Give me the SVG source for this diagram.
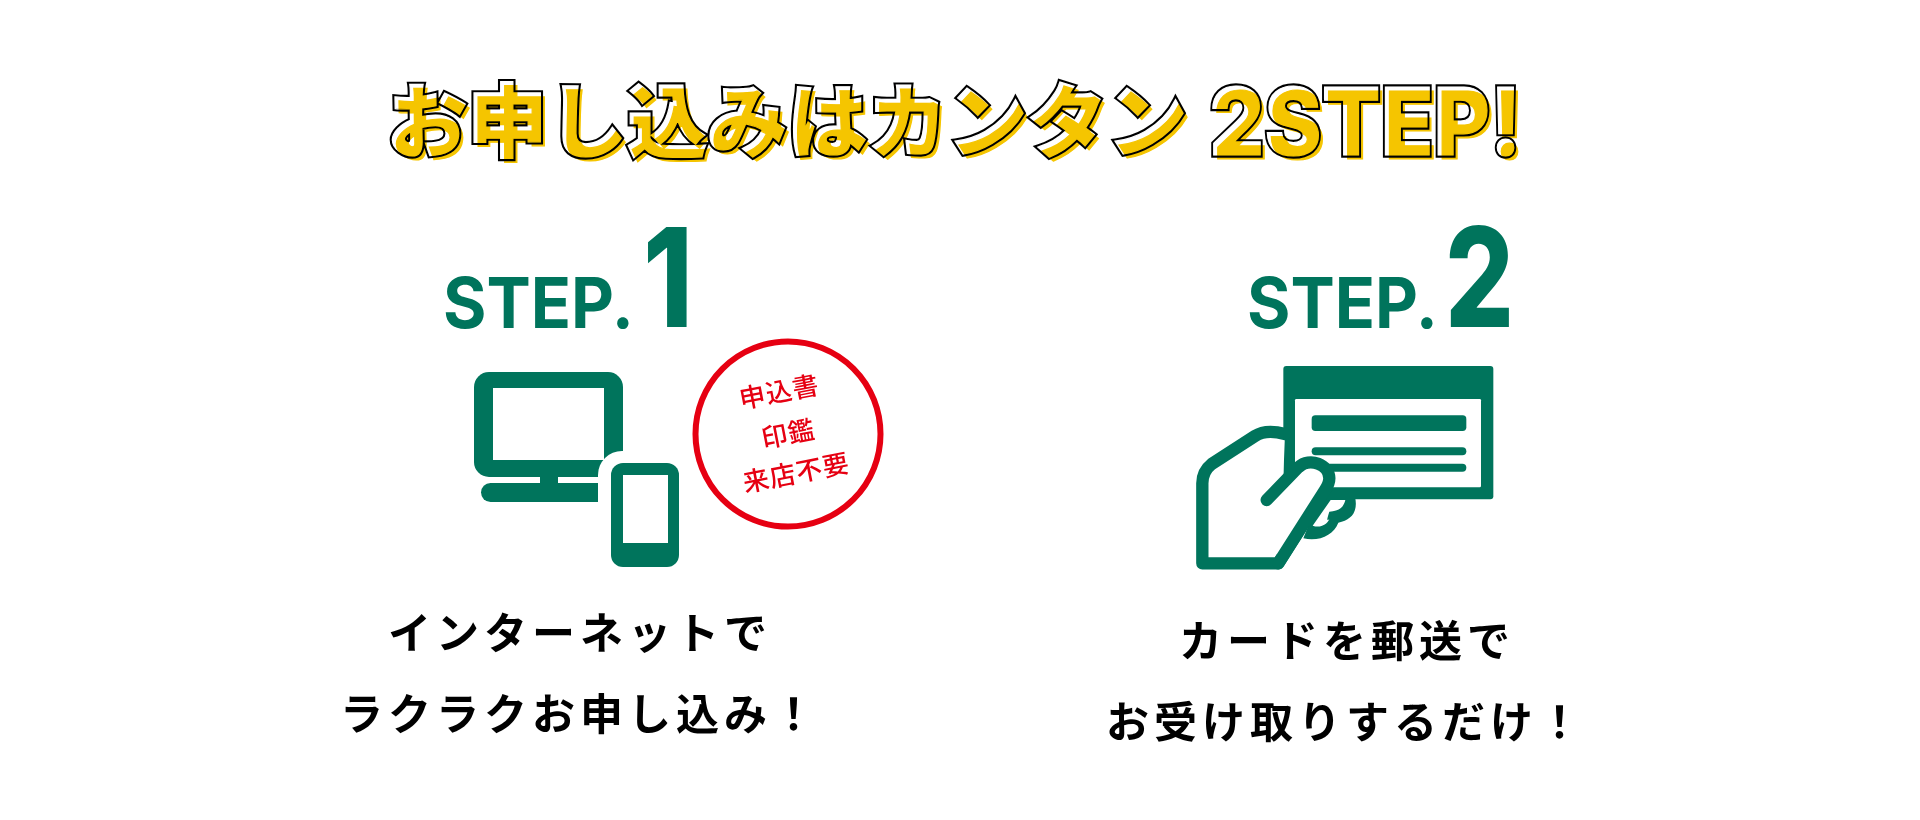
<svg xmlns="http://www.w3.org/2000/svg" width="1920" height="820" viewBox="0 0 1920 820">
<style>
.g{fill:#00745c}
.w{fill:#fff}
.jp{font-family:"Noto Sans CJK JP","Noto Sans",sans-serif}
.tj{font-size:80px;font-weight:900}
.tl{font-family:Inter,"Liberation Sans",sans-serif;font-size:94px;font-weight:800}
.sh{fill:#f5c500;stroke:#f5c500;stroke-width:1.2px;mix-blend-mode:multiply}
.ob{fill:#000;stroke:#000;stroke-width:5.4px;stroke-linejoin:miter;stroke-miterlimit:3}
.ow{fill:#fff;stroke:#fff;stroke-width:1.2px;stroke-linejoin:miter;stroke-miterlimit:3}
.st{font-family:Inter,"Liberation Sans",sans-serif;font-weight:700;font-size:70px;fill:#00745c}
.nm{font-family:Inter,"Liberation Sans",sans-serif;font-weight:800;font-size:138px;fill:#00745c}
.bd{font-size:43px;font-weight:700;fill:#000;letter-spacing:5px}
.rd{font-size:26px;font-weight:500;fill:#e60012;text-anchor:middle;letter-spacing:1px}
.h{fill:none;stroke:#00745c;stroke-width:37;stroke-linecap:round;stroke-linejoin:round}
</style>
<rect width="1920" height="820" fill="#fff"/>
<g id="title">
<text class="jp tj ob" x="387" y="150">お申し込みはカンタン</text>
<text class="tl ob" x="1209" y="155" textLength="312" lengthAdjust="spacingAndGlyphs">2STEP!</text>
<text class="jp tj ow" x="387" y="150">お申し込みはカンタン</text>
<text class="tl ow" x="1209" y="155" textLength="312" lengthAdjust="spacingAndGlyphs">2STEP!</text>
<text class="jp tj sh" x="391" y="154">お申し込みはカンタン</text>
<text class="tl sh" x="1213" y="159" textLength="312" lengthAdjust="spacingAndGlyphs">2STEP!</text>
</g>
<g id="step1-label">
<text class="st" x="443" y="328" textLength="191" lengthAdjust="spacingAndGlyphs">STEP.</text>
<text class="nm" x="643" y="327" textLength="50" lengthAdjust="spacingAndGlyphs">1</text>
</g>
<g id="step1-devices">
<rect class="g" x="474" y="372" width="149" height="105" rx="15"/>
<rect class="w" x="493" y="388" width="111" height="72"/>
<rect class="g" x="540" y="477" width="18" height="8"/>
<rect class="g" x="481" y="483" width="130" height="19" rx="9.5"/>
<rect class="w" x="598" y="451" width="93" height="128" rx="24"/>
<rect class="g" x="611" y="463" width="68" height="104" rx="12"/>
<rect class="w" x="623" y="475" width="45" height="68"/>
</g>
<g id="stamp">
<circle cx="788" cy="434" r="92.5" fill="none" stroke="#e60012" stroke-width="6"/>
<g class="jp">
<text class="rd" transform="translate(781 401) rotate(-11)">申込書</text>
<text class="rd" transform="translate(790 443) rotate(-11)">印鑑</text>
<text class="rd" transform="translate(798 482) rotate(-11)">来店不要</text>
</g>
</g>
<g id="step1-text" class="jp">
<text class="bd" x="388" y="649">インターネットで</text>
<text class="bd" x="340" y="730">ラクラクお申し込み！</text>
</g>
<g id="step2-label">
<text class="st" x="1247" y="328" textLength="191" lengthAdjust="spacingAndGlyphs">STEP.</text>
<text class="nm" x="1445" y="327" textLength="69" lengthAdjust="spacingAndGlyphs">2</text>
</g>
<g id="step2-card">
<g transform="translate(1170 210) scale(.33333)">
<path class="g" d="M400 985 L450 860 L555 860 C565 905 545 930 505 938 C490 975 450 995 400 985 Z"/>
<path class="w" d="M482 870 L526 870 C520 895 505 903 478 905 C472 925 468 935 478 928 C470 945 450 955 428 947 Z"/>
<rect class="g" x="340" y="468" width="630" height="400" rx="9"/>
<rect class="w" x="375" y="567" width="558" height="265" rx="4"/>
<rect class="g" x="425" y="616" width="464" height="47" rx="11"/>
<rect class="g" x="425" y="712" width="464" height="24" rx="12"/>
<rect class="g" x="425" y="761" width="464" height="24" rx="12"/>
<path class="w" d="M345 672 C300 660 275 665 255 678 L125 762 C105 778 97 800 97 820 L97 1060 L325 1060 L470 830 L400 745 L340 800 Z"/>
<path class="h" d="M345 672 C300 660 275 665 255 678 L125 762 C105 778 97 800 97 820 L97 1060 L325 1060 L470 830"/>
<path class="h" style="fill:#fff" d="M290 870 L385 772 C420 740 478 765 478 805 C478 820 472 830 465 840 L325 1060"/>
</g>
</g>
<g id="step2-text" class="jp">
<text class="bd" x="1179" y="657">カードを郵送で</text>
<text class="bd" x="1106" y="738">お受け取りするだけ！</text>
</g>
</svg>
